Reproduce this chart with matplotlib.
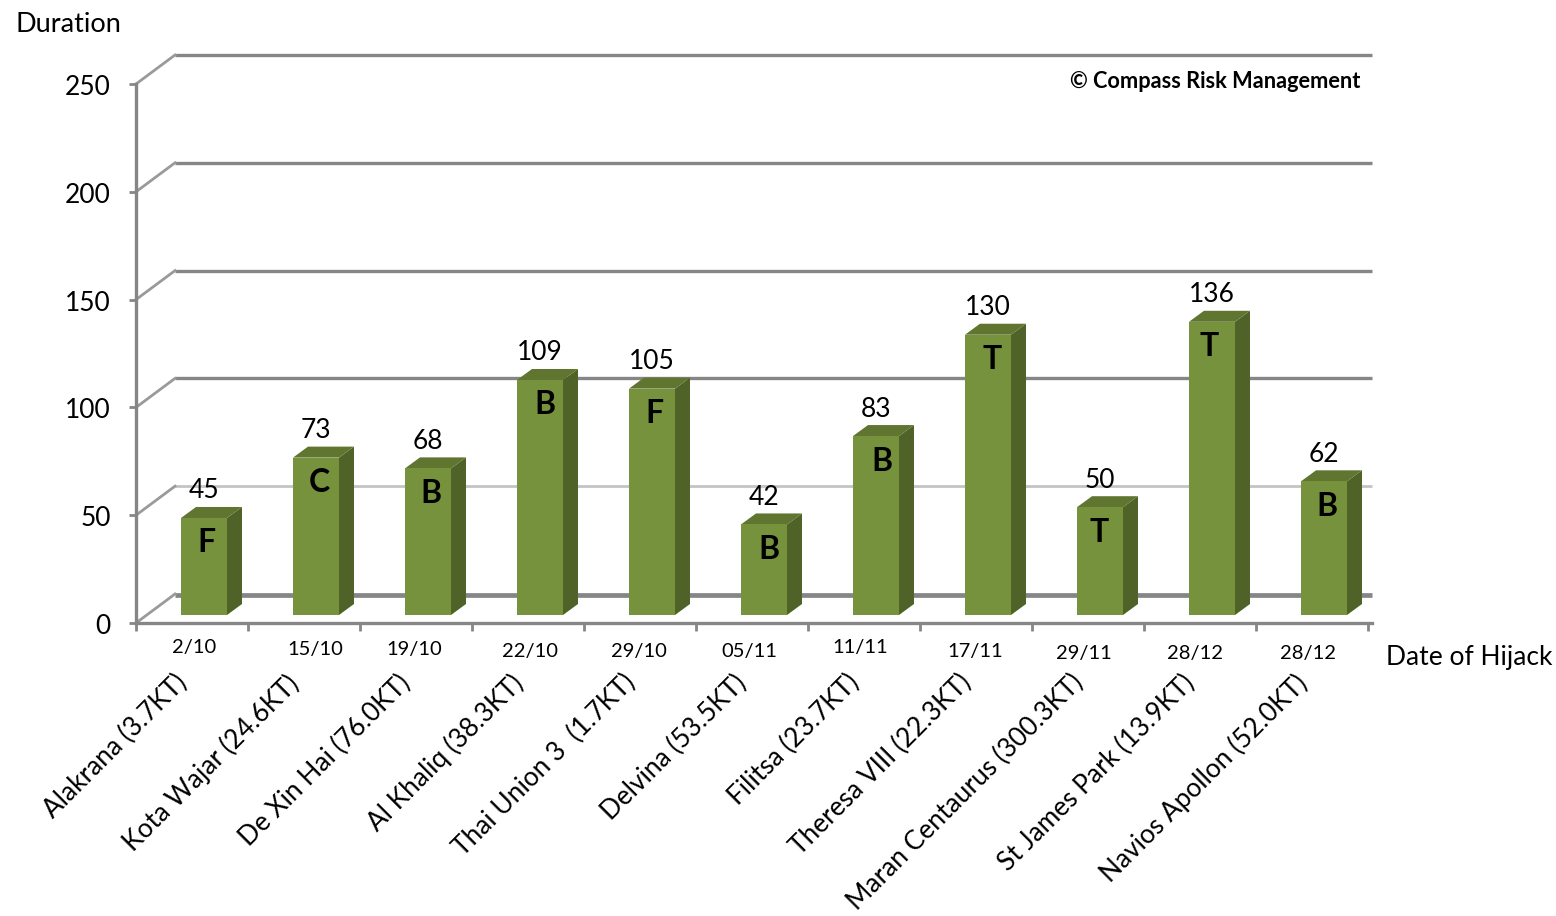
import matplotlib
matplotlib.use('Agg')
import matplotlib.pyplot as plt
from matplotlib.transforms import Affine2D
import numpy as np

plt.rcParams['font.family'] = ['Lato', 'DejaVu Sans']

# data
ships = ['Alakrana (3.7KT)', 'Kota Wajar (24.6KT)', 'De Xin Hai (76.0KT)', 'Al Khaliq (38.3KT)',
         'Thai Union 3  (1.7KT)', 'Delvina (53.5KT)', 'Filitsa (23.7KT)', 'Theresa VIII (22.3KT)',
         'Maran Centaurus (300.3KT)', 'St James Park (13.9KT)', 'Navios Apollon (52.0KT)']
dates = ['2/10', '15/10', '19/10', '22/10', '29/10', '05/11', '11/11', '17/11', '29/11', '28/12', '28/12']
durations = [45, 73, 68, 109, 105, 42, 83, 130, 50, 136, 62]
letters = ['F', 'C', 'B', 'B', 'F', 'B', 'B', 'T', 'T', 'T', 'B']
yticks = [0, 50, 100, 150, 200, 250]

# hand placed offsets, pixels
date_y = [647, 649, 649, 651, 652, 652, 648, 651, 654, 653, 653]
date_dx = [2, 11, -2, 2, -1, -3, -4, -1, -4, -5, -4]
letter_dx = [3, 4, 4, 6, 3, 6, 7, 5, 0, -2, 4]

W, H = 1556, 916
L, R, T, B = 136, 1368, 84, 623
GREY = '#868686'
FRONT, TOP, SIDE = '#76923c', '#5f7530', '#4f6228'

fig = plt.figure(figsize=(W / 100, H / 100), dpi=100)
ax = fig.add_axes([L / W, 1 - B / H, (R - L) / W, (B - T) / H])
ax.set_xlim(0, 11)
ax.set_ylim(0, 250)

px = 11 / (R - L)
py = 250 / (B - T)


def shifted(dx, dy):
    # data transform moved by screen pixels (dy up)
    return ax.transData + Affine2D().translate(dx, dy)


# back wall lines and the side wall steps
for v in yticks:
    heavy = v == 0
    col = '#c4c4c4' if v == 50 else GREY
    lw = 3.4 if heavy else (2.0 if v == 50 else 2.4)
    back = shifted(39, 28) if heavy else shifted(39, 29)
    ax.plot([0, (1372 - L - 39) * px], [v, v], color=col, lw=lw, transform=back,
            clip_on=False, zorder=1, solid_capstyle='butt')
    ax.plot([0, 39 * px], [v, v + 29 * py], color='#9a9a9a', lw=2, clip_on=False, zorder=1)

# bars
x = np.arange(len(durations)) + 0.5
wid = 46 * px
ddx, ddy = 15 * px, 11 * py
ax.bar(x, durations, width=wid, color=FRONT, transform=shifted(12, 8), zorder=3, clip_on=False)
for xi, v in zip(x, durations):
    l, r = xi - wid / 2, xi + wid / 2
    ax.fill([r, r + ddx, r + ddx, r], [0, ddy, v + ddy, v], color=SIDE, lw=0,
            transform=shifted(12, 8), zorder=2, clip_on=False)
    ax.fill([l, r, r + ddx, l + ddx], [v, v, v + ddy, v + ddy], color=TOP, lw=0,
            transform=shifted(12, 8), zorder=2, clip_on=False)

for i, (xi, v) in enumerate(zip(x, durations)):
    ax.annotate(str(v), (xi, v), xytext=(12, 8 + 27), textcoords='offset pixels', ha='center', va='center',
                fontsize=19, color='black', zorder=5, annotation_clip=False)
    ax.annotate(letters[i], (xi, v), xytext=(11 + letter_dx[i], 8 - 25), textcoords='offset pixels',
                ha='center', va='center', fontsize=23, fontweight='bold', color='black', zorder=5,
                annotation_clip=False)
    fig.text((xi / px + L + date_dx[i]) / W, 1 - date_y[i] / H, dates[i], ha='center', va='center', fontsize=14.5)
    fig.text((xi / px + L - 18) / W, 1 - 670 / H, ships[i], rotation=45, rotation_mode='anchor',
             ha='right', va='top', fontsize=18.9)

# axes
for s in ['top', 'right']:
    ax.spines[s].set_visible(False)
for s in ['left', 'bottom']:
    ax.spines[s].set_color(GREY)
    ax.spines[s].set_linewidth(2.4)
ax.spines['bottom'].set_bounds(0, (1372 - L) * px)
ax.set_yticks(yticks)
ax.set_xticks(np.arange(12))
ax.set_xticklabels([])
ax.tick_params(axis='y', length=5, width=2, color=GREY, pad=13, labelsize=19)
ax.tick_params(axis='x', length=6, width=2, color=GREY)
for lab in ax.get_yticklabels():
    lab.set_transform(lab.get_transform() + Affine2D().translate(0, -1))
ax.patch.set_alpha(0)

fig.text(15 / W, 1 - 25 / H, 'Duration', ha='left', va='center', fontsize=19.5)
fig.text(1386 / W, 1 - 658 / H, 'Date of Hijack', ha='left', va='center', fontsize=19)
fig.text(1360 / W, 1 - 82 / H, '© Compass Risk Management', ha='right', va='center',
         fontsize=15.7, fontweight='bold')

fig.savefig('out.png', dpi=100)
